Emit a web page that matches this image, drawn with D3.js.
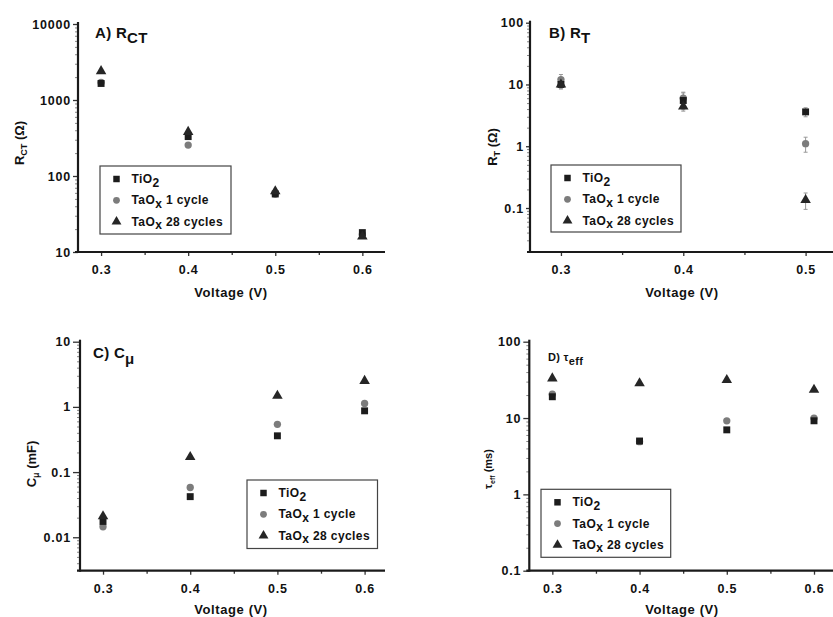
<!DOCTYPE html>
<html>
<head>
<meta charset="utf-8">
<script src="https://cdn.jsdelivr.net/npm/d3@7"></script>
<style>
  body { margin: 0; background: #fff; }
  svg { display: block; font-family: "Liberation Sans", Arial, sans-serif; font-weight: bold; }
</style>
</head>
<body>
<svg id="chart" width="833" height="617"></svg>
<script>
// Voltages (x values) and minor ticks
const voltages = [0.3, 0.4, 0.5, 0.6];
const minorVoltages = [0.35, 0.45, 0.55];

// A) charge transfer resistance R_CT (ohm)
const rctTiO2 = [1650, 330, 58, 18];
const rctTaOx1 = [1700, 255, 58, 17];
const rctTaOx28 = [2400, 380, 63, 16];

// B) transport resistance R_T (ohm), measured up to 0.5 V
const rtTiO2 = [10, 5.5, 3.6];
const rtTaOx1 = [12, 6, 1.1];
const rtTaOx28 = [10, 4.4, 0.135];
const rtErrTiO2 = [1.5, 1.8, 0.6];
const rtErrTaOx1 = [2.5, 1.5, 0.3];
const rtErrTaOx28 = [1.5, 0.5, 0.04];

// C) chemical capacitance C_mu (mF)
const cmuTiO2 = [0.0175, 0.042, 0.36, 0.87];
const cmuTaOx1 = [0.0145, 0.058, 0.54, 1.13];
const cmuTaOx28 = [0.021, 0.17, 1.48, 2.5];

// D) effective lifetime tau_eff (ms)
const tauTiO2 = [19, 5, 7, 9.2];
const tauTaOx1 = [20.5, 4.9, 9.2, 10];
const tauTaOx28 = [33, 28.5, 31.5, 23.5];

const svg = d3.select('#chart');

// series styles: drawn circle, square, triangle
const seriesStyle = {
  tio2: { symbol: d3.symbolSquare, size: 48, fill: '#1c1c1c' },
  taox1: { symbol: d3.symbolCircle, size: 42, fill: '#7c7c7c' },
  taox28: { symbol: d3.symbolTriangle, size: 48, fill: '#262626' }
};

const legendItems = [
  { key: 'tio2', parts: [{ t: 'TiO' }, { t: '2', sub: true }] },
  { key: 'taox1', parts: [{ t: 'TaO' }, { t: 'x', sub: true }, { t: ' 1 cycle' }] },
  { key: 'taox28', parts: [{ t: 'TaO' }, { t: 'x', sub: true }, { t: ' 28 cycles' }] }
];

// write text made of normal and subscript pieces
function addRich(text, parts, subShift, subSize) {
  let shifted = false;
  parts.forEach(p => {
    const ts = text.append('tspan').text(p.t);
    if (p.sub && !shifted) { ts.attr('dy', subShift); shifted = true; }
    else if (!p.sub && shifted) { ts.attr('dy', -subShift); shifted = false; }
    if (p.sub && subSize) ts.style('font-size', subSize + 'px');
  });
}

const panels = [
  {
    left: 78, right: 385, top: 24, bottom: 252,
    xDomain: [0.2735, 0.626], yDomain: [10, 10000], yTick: 5,
    series: { tio2: rctTiO2, taox1: rctTaOx1, taox28: rctTaOx28 },
    title: { x: 95, y: 38, size: 15, shift: 5, parts: [{ t: 'A) R' }, { t: 'CT', sub: true }] },
    yTitle: { x: 24, y: 143, size: 13, parts: [{ t: 'R' }, { t: 'CT', sub: true }, { t: ' (Ω)' }] },
    xTitle: { x: 231, y: 297 },
    legend: { x: 100, y: 166, w: 131, h: 68 }
  },
  {
    left: 530, right: 833, top: 22.7, bottom: 252,
    xDomain: [0.2747, 0.5224], yDomain: [0.0194, 100], yTick: 4,
    series: { tio2: rtTiO2, taox1: rtTaOx1, taox28: rtTaOx28 },
    errors: { tio2: rtErrTiO2, taox1: rtErrTaOx1, taox28: rtErrTaOx28 },
    title: { x: 549, y: 38, size: 15, shift: 5, parts: [{ t: 'B) R' }, { t: 'T', sub: true }] },
    yTitle: { x: 497, y: 147, size: 13, parts: [{ t: 'R' }, { t: 'T', sub: true }, { t: ' (Ω)' }] },
    xTitle: { x: 682, y: 297 },
    legend: { x: 551, y: 165, w: 130, h: 67 }
  },
  {
    left: 80, right: 385, top: 341.7, bottom: 570.7,
    xDomain: [0.2736, 0.6234], yDomain: [0.00307, 10], yTick: 7,
    series: { tio2: cmuTiO2, taox1: cmuTaOx1, taox28: cmuTaOx28 },
    title: { x: 93, y: 358, size: 15, shift: 6, parts: [{ t: 'C) C' }, { t: 'μ', sub: true }] },
    yTitle: { x: 36, y: 464, size: 13, parts: [{ t: 'C' }, { t: 'μ', sub: true }, { t: ' (mF)' }] },
    xTitle: { x: 231, y: 614 },
    legend: { x: 247, y: 480, w: 130.5, h: 68.5 }
  },
  {
    left: 529.3, right: 840, top: 341.7, bottom: 570.7,
    xDomain: [0.2736, 0.6298], yDomain: [0.1, 100], yTick: 6,
    series: { tio2: tauTiO2, taox1: tauTaOx1, taox28: tauTaOx28 },
    title: { x: 548, y: 361, size: 11, shift: 4, parts: [{ t: 'D) τ' }, { t: 'eff', sub: true }] },
    yTitle: { x: 492, y: 469, size: 11, parts: [{ t: 'τ' }, { t: 'eff', sub: true }, { t: ' (ms)' }] },
    xTitle: { x: 682, y: 614 },
    legend: { x: 541, y: 489.3, w: 129.7, h: 68 }
  }
];

function drawPanel(p) {
  const x = d3.scaleLinear().domain(p.xDomain).range([p.left, p.right]);
  const y = d3.scaleLog().domain(p.yDomain).range([p.bottom, p.top]);
  const g = svg.append('g');

  // decade ticks and log minor ticks
  const lo = Math.floor(Math.log10(p.yDomain[0]));
  const hi = Math.ceil(Math.log10(p.yDomain[1]));
  const decades = [];
  const minors = [];
  for (let e = lo; e <= hi; e++) {
    const base = +Math.pow(10, e).toPrecision(6);
    if (base >= p.yDomain[0] && base <= p.yDomain[1]) decades.push(base);
    for (let k = 2; k <= 9; k++) {
      const v = k * base;
      if (v > p.yDomain[0] && v < p.yDomain[1]) minors.push(v);
    }
  }

  const yMinor = g.append('g').attr('transform', `translate(${p.left},0)`)
    .call(d3.axisLeft(y).tickValues(minors).tickSize(3).tickFormat(''));
  const yMajor = g.append('g').attr('transform', `translate(${p.left},0)`)
    .call(d3.axisLeft(y).tickValues(decades).tickSize(p.yTick).tickPadding(2).tickFormat(d3.format('~g')));

  const xVals = voltages.filter(v => v >= p.xDomain[0] && v <= p.xDomain[1]);
  const xMin = minorVoltages.filter(v => v >= p.xDomain[0] && v <= p.xDomain[1]);
  const xMinor = g.append('g').attr('transform', `translate(0,${p.bottom})`)
    .call(d3.axisBottom(x).tickValues(xMin).tickSize(3).tickFormat(''));
  const xMajor = g.append('g').attr('transform', `translate(0,${p.bottom})`)
    .call(d3.axisBottom(x).tickValues(xVals).tickSize(4).tickPadding(9).tickFormat(d3.format('.1f')));

  [yMinor, yMajor, xMinor, xMajor].forEach(a => {
    a.select('.domain').remove();
    a.selectAll('line').attr('stroke', '#333').attr('stroke-width', 1.3);
    a.selectAll('text').attr('fill', '#111').style('font-size', '12.5px').style('font-weight', 'bold')
      .style('letter-spacing', '0.8px').style('font-family', '"Liberation Sans", Arial, sans-serif');
  });
  yMinor.selectAll('line').attr('stroke', '#888').attr('stroke-width', 1);

  // axis lines
  g.append('line').attr('x1', p.left).attr('x2', p.left).attr('y1', p.top - 2).attr('y2', p.bottom + 1)
    .attr('stroke', '#1a1a1a').attr('stroke-width', 2.2);
  g.append('line').attr('x1', p.left - 3).attr('x2', p.right).attr('y1', p.bottom).attr('y2', p.bottom)
    .attr('stroke', '#1a1a1a').attr('stroke-width', 2.2);

  // error bars
  if (p.errors) {
    Object.keys(p.errors).forEach(key => {
      const vals = p.series[key];
      const errs = p.errors[key];
      const eb = g.append('g').attr('stroke', '#999').attr('stroke-width', 1);
      vals.forEach((v, i) => {
        const cx = x(voltages[i]);
        const y1 = y(Math.max(v - errs[i], p.yDomain[0]));
        const y2 = y(v + errs[i]);
        eb.append('line').attr('x1', cx).attr('x2', cx).attr('y1', y1).attr('y2', y2);
        eb.append('line').attr('x1', cx - 2).attr('x2', cx + 2).attr('y1', y1).attr('y2', y1);
        eb.append('line').attr('x1', cx - 2).attr('x2', cx + 2).attr('y1', y2).attr('y2', y2);
      });
    });
  }

  // points
  ['taox1', 'tio2', 'taox28'].forEach(key => {
    const st = seriesStyle[key];
    const sym = d3.symbol().type(st.symbol).size(st.size);
    g.append('g').selectAll('path')
      .data(p.series[key].map((v, i) => ({ v: voltages[i], y: v })))
      .enter().append('path')
      .attr('d', sym)
      .attr('transform', d => `translate(${x(d.v)},${y(d.y)})`)
      .attr('fill', st.fill);
  });

  // legend
  const L = p.legend;
  const lg = g.append('g').attr('transform', `translate(${L.x},${L.y})`);
  lg.append('rect').attr('width', L.w).attr('height', L.h)
    .attr('fill', '#fff').attr('stroke', '#444').attr('stroke-width', 1.2);
  legendItems.forEach((it, i) => {
    const cy = 13 + i * 21.3;
    const st = seriesStyle[it.key];
    lg.append('path').attr('d', d3.symbol().type(st.symbol).size(st.size - 6)())
      .attr('transform', `translate(16.5,${cy})`).attr('fill', st.fill);
    const t = lg.append('text').attr('x', 31.5).attr('y', cy + 4)
      .attr('fill', '#111').style('font-size', '12px').style('letter-spacing', '0.4px');
    addRich(t, it.parts, 3.5);
  });

  // panel title
  const T = p.title;
  const tt = g.append('text').attr('x', T.x).attr('y', T.y).attr('fill', '#111')
    .style('font-size', T.size + 'px').style('letter-spacing', '0.3px');
  addRich(tt, T.parts, T.shift);

  // y title
  const Y = p.yTitle;
  const yt = g.append('text').attr('transform', `translate(${Y.x},${Y.y}) rotate(-90)`)
    .attr('text-anchor', 'middle').attr('fill', '#111').style('font-size', Y.size + 'px');
  addRich(yt, Y.parts, 3, Y.size - 4);

  // x title
  g.append('text').attr('x', p.xTitle.x).attr('y', p.xTitle.y).attr('text-anchor', 'middle')
    .attr('fill', '#111').style('font-size', '13px').style('letter-spacing', '0.6px').text('Voltage (V)');
}

panels.forEach(drawPanel);
</script>
</body>
</html>
